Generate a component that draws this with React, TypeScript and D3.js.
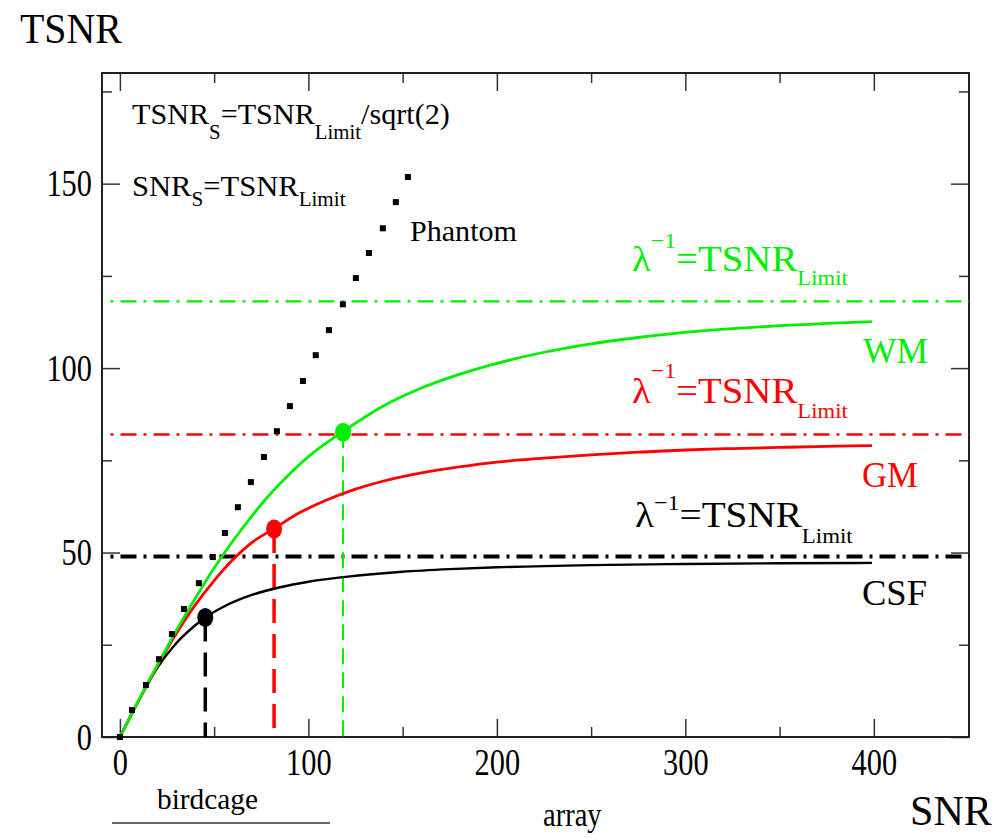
import React, { useRef, useEffect } from "react";
import * as d3 from "d3";

// phantom measurements (squares)
const phantomSnr = [0, 6.4, 13.8, 20.7, 27.6, 34.0, 41.9, 49.3, 55.7, 62.6, 69.5, 76.4, 83.3, 90.2, 97.1, 103.9, 110.9, 118.3, 125.2, 132.1, 139.5, 146.4, 152.8];
const phantomTsnr = [0, 7.3, 14.1, 21.1, 27.9, 34.7, 41.7, 48.8, 55.3, 62.3, 69.1, 75.9, 82.9, 89.7, 96.5, 103.5, 110.3, 117.3, 124.4, 131.2, 137.9, 145.0, 151.8];

// tissue curves
const wmSnr = [0, 10, 20, 30, 40, 50, 60, 70, 80, 90, 100, 118.4, 140, 160, 180, 200, 225, 250, 275, 300, 325, 350, 375, 399];
const wmTsnr = [0, 10, 19.6, 28.9, 37.6, 45.8, 53.2, 59.9, 66.0, 71.3, 76.0, 82.8, 89.8, 94.6, 98.3, 101.3, 104.3, 106.6, 108.3, 109.7, 110.7, 111.5, 112.1, 112.6];

const gmSnr = [0, 10, 20, 30, 40, 50, 60, 70, 81.8, 95, 110, 125, 140, 160, 180, 200, 225, 250, 275, 300, 325, 350, 375, 399];
const gmTsnr = [0, 9.9, 19.4, 28.1, 35.8, 42.4, 48.1, 52.7, 56.5, 60.7, 64.3, 67.2, 69.4, 71.6, 73.2, 74.5, 75.6, 76.5, 77.2, 77.8, 78.2, 78.5, 78.8, 79.0];

const csfSnr = [0, 10, 20, 30, 40, 45.3, 55, 70, 85, 100, 125, 150, 175, 200, 250, 300, 350, 399];
const csfTsnr = [0, 9.9, 18.9, 25.5, 30.3, 32.4, 35.3, 38.5, 40.6, 42.1, 43.7, 44.8, 45.5, 46.0, 46.6, 46.9, 47.1, 47.2];

// limits (lambda^-1) and the points where SNR = TSNR_Limit
const limitNames = ["WM", "GM", "CSF"];
const limitValues = [118.1, 82.0, 48.9];
const markSnr = [118.4, 81.8, 45.3];
const markTsnr = [82.6, 56.4, 32.4];

const xMajor = [0, 100, 200, 300, 400];
const xMinor = [50, 150, 250, 350];
const yMajor = [0, 50, 100, 150];
const yMinor = [25, 75, 125, 175];

const W = 995, H = 839;
const left = 102, right = 969, top = 73, bottom = 737;
const FONT = "'Liberation Serif', 'Times New Roman', serif";
const GREEN = "#00ee00", RED = "#ff0000", BLACK = "#000000";

type Part = { t: string; fs?: number; dy?: number };

// draws a text and squeezes it horizontally to width w (or by factor k)
function label(g: any, x: number, yb: number, fs: number, fill: string, parts: Part[], fit: { w?: number; k?: number }) {
  const t = g.append("text")
    .attr("x", x)
    .attr("y", yb)
    .attr("font-size", fs)
    .attr("fill", fill);
  parts.forEach((p) => {
    t.append("tspan")
      .attr("font-size", p.fs ?? fs)
      .attr("y", yb + (p.dy ?? 0))
      .text(p.t);
  });
  let k = fit.k ?? 1;
  if (fit.w) {
    const bb = (t.node() as SVGTextElement).getBBox();
    if (bb.width > 0) k = fit.w / bb.width;
  }
  t.attr("transform", `translate(${x},0) scale(${k},1) translate(${-x},0)`);
}

export default function App() {
  const ref = useRef<SVGSVGElement>(null);

  useEffect(() => {
    const svg = d3.select(ref.current);
    svg.selectAll("*").remove();

    const x = d3.scaleLinear().domain([-9.5, 450.5]).range([left, right]);
    const y = d3.scaleLinear().domain([0, 180]).range([bottom, top]);

    // ticks, pointing inwards on all four sides
    const tickStyle = (g: any) => {
      g.select(".domain").remove();
      g.selectAll("line").attr("stroke", "#333").attr("stroke-width", 1.5);
    };
    const noLabel = () => "";

    const gx = svg.append("g").attr("transform", `translate(0,${bottom})`)
      .call(d3.axisBottom(x).tickValues(xMajor).tickSize(-18).tickSizeOuter(0).tickPadding(11).tickFormat(d3.format("d")) as any);
    tickStyle(gx);
    gx.selectAll("text")
      .attr("font-family", FONT).attr("font-size", 38).attr("fill", "#000")
      .attr("transform", "scale(0.8,1)");
    svg.append("g").attr("transform", `translate(0,${bottom})`)
      .call(d3.axisBottom(x).tickValues(xMinor).tickSize(-10).tickSizeOuter(0).tickFormat(noLabel) as any)
      .call(tickStyle);
    svg.append("g").attr("transform", `translate(0,${top})`)
      .call(d3.axisTop(x).tickValues(xMajor).tickSize(-18).tickSizeOuter(0).tickFormat(noLabel) as any)
      .call(tickStyle);
    svg.append("g").attr("transform", `translate(0,${top})`)
      .call(d3.axisTop(x).tickValues(xMinor).tickSize(-10).tickSizeOuter(0).tickFormat(noLabel) as any)
      .call(tickStyle);

    const gy = svg.append("g").attr("transform", `translate(${left},0)`)
      .call(d3.axisLeft(y).tickValues(yMajor).tickSize(-18).tickSizeOuter(0).tickPadding(12.5).tickFormat(d3.format("d")) as any);
    tickStyle(gy);
    gy.selectAll("text")
      .attr("font-family", FONT).attr("font-size", 38).attr("fill", "#000")
      .attr("transform", "scale(0.8,1)");
    svg.append("g").attr("transform", `translate(${left},0)`)
      .call(d3.axisLeft(y).tickValues(yMinor).tickSize(-10).tickSizeOuter(0).tickFormat(noLabel) as any)
      .call(tickStyle);
    svg.append("g").attr("transform", `translate(${right},0)`)
      .call(d3.axisRight(y).tickValues(yMajor).tickSize(-18).tickSizeOuter(0).tickFormat(noLabel) as any)
      .call(tickStyle);
    svg.append("g").attr("transform", `translate(${right},0)`)
      .call(d3.axisRight(y).tickValues(yMinor).tickSize(-10).tickSizeOuter(0).tickFormat(noLabel) as any)
      .call(tickStyle);

    // frame
    svg.append("rect")
      .attr("x", left).attr("y", top)
      .attr("width", right - left).attr("height", bottom - top)
      .attr("fill", "none").attr("stroke", "#222").attr("stroke-width", 2);

    const colors = [GREEN, RED, BLACK];
    const hWidth = [2.2, 2.6, 4];
    const vWidth = [2, 3.5, 3.5];
    const vDash = ["16,8", "24,11", "24,11"];

    // horizontal dash-dot limit lines
    limitValues.forEach((v, i) => {
      svg.append("line")
        .attr("x1", x(-5)).attr("x2", right)
        .attr("y1", y(v)).attr("y2", y(v))
        .attr("stroke", colors[i]).attr("stroke-width", hWidth[i])
        .attr("stroke-dasharray", "3,7,16,7");
    });

    // vertical dashed drop lines
    markSnr.forEach((s, i) => {
      svg.append("line")
        .attr("x1", x(s)).attr("x2", x(s))
        .attr("y1", y(markTsnr[i])).attr("y2", bottom)
        .attr("stroke", colors[i]).attr("stroke-width", vWidth[i])
        .attr("stroke-dasharray", vDash[i]);
    });

    // curves
    const line = d3.line<[number, number]>()
      .x((d) => x(d[0]))
      .y((d) => y(d[1]))
      .curve(d3.curveMonotoneX);
    const curves = [
      { s: csfSnr, t: csfTsnr, c: BLACK, w: 2.4 },
      { s: gmSnr, t: gmTsnr, c: RED, w: 2.8 },
      { s: wmSnr, t: wmTsnr, c: GREEN, w: 2.8 },
    ];
    curves.forEach((cv) => {
      svg.append("path")
        .datum(cv.s.map((s, i) => [s, cv.t[i]] as [number, number]))
        .attr("d", line)
        .attr("fill", "none")
        .attr("stroke", cv.c)
        .attr("stroke-width", cv.w);
    });

    // phantom squares
    svg.append("g").selectAll("rect")
      .data(phantomSnr)
      .enter()
      .append("rect")
      .attr("x", (d) => x(d) - 3)
      .attr("y", (d, i) => y(phantomTsnr[i]) - 3)
      .attr("width", 6)
      .attr("height", 6)
      .attr("fill", "#000");

    // markers
    markSnr.forEach((s, i) => {
      svg.append("ellipse")
        .attr("cx", x(s)).attr("cy", y(markTsnr[i]))
        .attr("rx", 8).attr("ry", 9.5)
        .attr("fill", colors[i]);
    });

    // texts
    const tg = svg.append("g").attr("font-family", FONT);
    label(tg, 20, 43, 42, BLACK, [{ t: "TSNR" }], { w: 102 });
    label(tg, 910, 825, 42, BLACK, [{ t: "SNR" }], { w: 82 });
    label(tg, 157, 809, 30, BLACK, [{ t: "birdcage" }], { w: 101 });
    label(tg, 543, 826, 33, BLACK, [{ t: "array" }], { w: 59 });
    svg.append("line")
      .attr("x1", 112).attr("x2", 330).attr("y1", 823).attr("y2", 823)
      .attr("stroke", "#333").attr("stroke-width", 1.3);

    label(tg, 132, 124, 29, BLACK, [
      { t: "TSNR" }, { t: "S", fs: 20, dy: 15 }, { t: "=TSNR" }, { t: "Limit", fs: 20, dy: 15 }, { t: "/sqrt(2)" },
    ], { w: 318 });
    label(tg, 132, 196, 29, BLACK, [
      { t: "SNR" }, { t: "S", fs: 20, dy: 10 }, { t: "=TSNR" }, { t: "Limit", fs: 20, dy: 10 },
    ], { w: 214 });
    label(tg, 410, 241, 30, BLACK, [{ t: "Phantom" }], { w: 107 });

    const lam = [
      { x: 632, b: 271, sup: -23, sub: 14, w: 216 },
      { x: 632, b: 403, sup: -25, sub: 15, w: 216 },
      { x: 635, b: 527, sup: -17, sub: 16, w: 218 },
    ];
    lam.forEach((l, i) => {
      label(tg, l.x, l.b, 36, colors[i], [
        { t: "λ" }, { t: "−1", fs: 22, dy: l.sup }, { t: "=TSNR" }, { t: "Limit", fs: 21, dy: l.sub },
      ], { w: l.w });
    });

    const names = [
      { x: 863, b: 363, w: 65 },
      { x: 862, b: 487, w: 56 },
      { x: 862, b: 605, w: 65 },
    ];
    names.forEach((n, i) => {
      label(tg, n.x, n.b, 36, colors[i], [{ t: limitNames[i] }], { w: n.w });
    });
  }, []);

  return (
    <svg
      ref={ref}
      width={W}
      height={H}
      style={{ position: "absolute", left: 0, top: 0, background: "#fff", fontFamily: FONT }}
    />
  );
}
